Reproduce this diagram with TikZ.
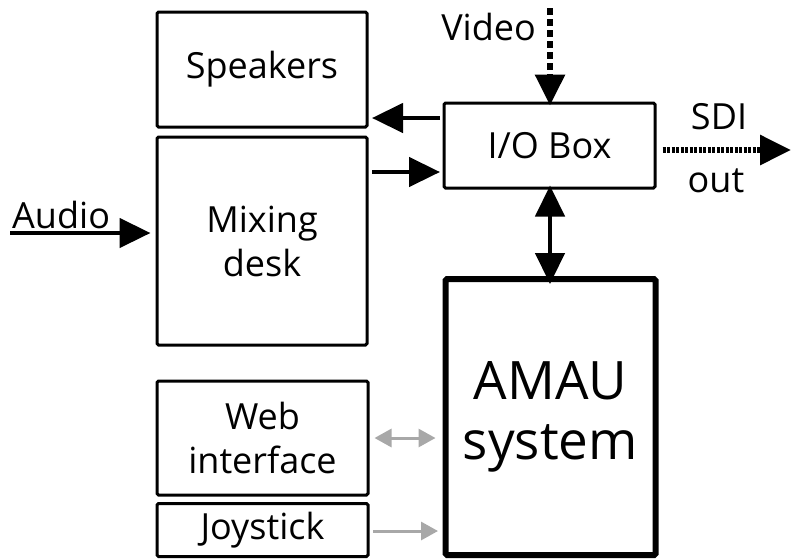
\documentclass[tikz,border=0pt]{standalone}
\usepackage{fontspec}
\setmainfont{Open Sans}
\usetikzlibrary{arrows.meta}
\definecolor{lgray}{RGB}{168,168,168}
\tikzset{
  box/.style={draw, line width=3pt, rounded corners=1.5pt, align=center, inner sep=0pt, font=\fontsize{36}{44}\selectfont},
  bigbox/.style={draw, line width=6pt, rounded corners=1.5pt, align=center, inner sep=0pt, font=\fontsize{53}{60}\selectfont},
  blk/.style={line width=4.5pt, -{Triangle[length=31pt,width=29pt]}},
  blkboth/.style={line width=4.5pt, {Triangle[length=31pt,width=29pt]}-{Triangle[length=31pt,width=29pt]}},
  gry/.style={line width=3pt, lgray, -{Triangle[length=17pt,width=18pt]}},
  gryboth/.style={line width=3pt, lgray, {Triangle[length=17pt,width=18pt]}-{Triangle[length=17pt,width=18pt]}},
  lbl/.style={font=\fontsize{36}{44}\selectfont, inner sep=0pt}
}
\begin{document}
\begin{tikzpicture}[x=1pt,y=-1pt]
\useasboundingbox (0,0) rectangle (791,558);
\node[box, minimum width=210pt, minimum height=115pt] (spk) at (262,69.5) {Speakers};
\node[box, minimum width=210pt, minimum height=208pt] (mix) at (262,241) {Mixing\\desk};
\node[box, minimum width=211pt, minimum height=85pt] (io) at (549.5,145.5) {I/O Box};
\node[bigbox, minimum width=210pt, minimum height=276pt] (amau) at (550.5,417) {AMAU\\system};
\node[box, minimum width=211pt, minimum height=114pt] (web) at (262.5,438) {Web\\interface};
\node[box, minimum width=211pt, minimum height=53pt] (joy) at (262.5,530) {Joystick};

\coordinate (ain) at (10,233);
\coordinate (vin) at (550,8);
\coordinate (sdi) at (791,150);
\coordinate (a1s) at (440,118);
\coordinate (a1e) at (372,118);
\coordinate (a2s) at (372,172);
\coordinate (a2e) at (440,172);
\coordinate (j1) at (373,531);
\coordinate (j2) at (438,531);

\draw[blk] (a1s) -- (a1e);
\draw[blk] (a2s) -- (a2e);
\draw[blk] (ain) -- ([xshift=-5pt]mix.west |- ain);
\draw[blk, dash pattern=on 7pt off 4pt, line width=6pt] (vin) -- ([yshift=-4pt]io.north -| vin);
\draw[blk, dash pattern=on 3pt off 1.5pt, line width=6pt] ([xshift=6pt]io.east |- sdi) -- (sdi);
\draw[blkboth] ([yshift=4pt]io.south -| vin) -- ([yshift=-8pt]amau.north -| vin);
\draw[gryboth] ([xshift=5pt]web.east) -- ([xshift=-7pt]amau.west |- web.east);
\draw[gry] (j1) -- (j2);

\node[lbl, anchor=base west] (audio) at (12,228) {Audio};
\node[lbl, anchor=base east] (video) at (536,40) {Video};
\node[lbl, anchor=base] (sdil) at (719,129) {SDI};
\node[lbl, anchor=base] (outl) at (716,192) {out};
\end{tikzpicture}
\end{document}
